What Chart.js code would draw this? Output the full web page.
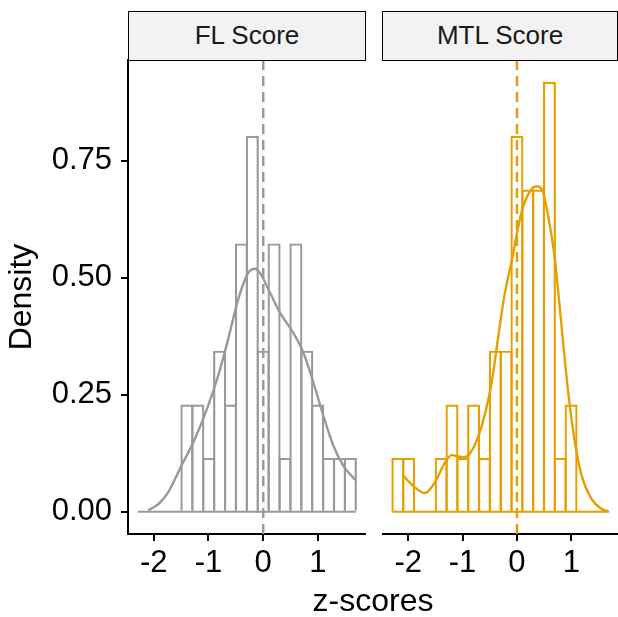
<!DOCTYPE html>
<html>
<head>
<meta charset="utf-8">
<script src="https://cdn.jsdelivr.net/npm/chart.js@4.4.1/dist/chart.umd.min.js"></script>
<style>
html,body{margin:0;padding:0;background:#fff;}
#wrap{position:relative;width:618px;height:617px;overflow:hidden;font-family:'Liberation Sans',Arial,Helvetica,sans-serif;}
canvas{position:absolute;top:0;}
.strip{position:absolute;top:11px;height:50px;box-sizing:border-box;border:1.5px solid #000;background:#F2F2F2;color:#1a1a1a;font-size:26px;line-height:47px;text-align:center;white-space:nowrap;}
#xtitle{position:absolute;left:128px;width:490px;top:584px;font-size:32px;line-height:32px;text-align:center;color:#000;}
</style>
</head>
<body>
<div id="wrap">
  <canvas id="c1" width="372" height="617" style="left:0px"></canvas>
  <canvas id="c2" width="236" height="617" style="left:382px"></canvas>
  <div class="strip" id="s1" style="left:128px;width:238px;"></div>
  <div class="strip" id="s2" style="left:382px;width:236px;"></div>
  <div id="xtitle"></div>
</div>
<script>
// ---- data ----
const panels = ['FL Score', 'MTL Score'];
const colors = ['#999999', '#E69F00'];
const binEdges = [-2.289, -2.090, -1.891, -1.692, -1.493, -1.294, -1.095, -0.896, -0.697, -0.498,
                  -0.299, -0.100, 0.099, 0.298, 0.497, 0.696, 0.895, 1.094, 1.293, 1.492, 1.691];
const flDensity  = [0, 0, 0, 0, 0.229, 0.229, 0.115, 0.344, 0.229, 0.573,
                    0.803, 0.344, 0.573, 0.115, 0.573, 0.344, 0.229, 0.115, 0.115, 0.115];
const mtlDensity = [0.115, 0.115, 0, 0, 0.115, 0.229, 0.115, 0.229, 0.115, 0.344,
                    0.344, 0.803, 0.688, 0.688, 0.918, 0.115, 0.229, 0, 0, 0];
const flCurveX  = [-2.10, -1.92, -1.74, -1.495, -1.251, -1.007, -0.824, -0.641, -0.458, -0.275,
                   -0.15, -0.06, 0.123, 0.306, 0.549, 0.733, 0.916, 1.099, 1.282, 1.465, 1.68];
const flCurveY  = [0.003, 0.016, 0.041, 0.098, 0.155, 0.226, 0.290, 0.368, 0.453, 0.510,
                   0.519, 0.510, 0.468, 0.425, 0.382, 0.340, 0.276, 0.205, 0.141, 0.098, 0.068];
const mtlCurveX = [-2.10, -1.875, -1.69, -1.507, -1.324, -1.20, -0.987, -0.833, -0.649, -0.465,
                   -0.343, -0.233, -0.08, 0.024, 0.116, 0.27, 0.373, 0.484, 0.575, 0.699,
                   0.80, 0.943, 1.066, 1.19, 1.373, 1.557, 1.68];
const mtlCurveY = [0.078, 0.052, 0.040, 0.063, 0.105, 0.121, 0.116, 0.130, 0.183, 0.276,
                   0.375, 0.460, 0.545, 0.609, 0.652, 0.689, 0.695, 0.681, 0.630, 0.538,
                   0.420, 0.254, 0.148, 0.077, 0.027, 0.006, 0.001];
const refLine = 0;
const xTicks = [-2, -1, 0, 1];
const xTickLabels = ['-2', '-1', '0', '1'];
const yTicks = [0, 0.25, 0.5, 0.75];
const yTickLabels = ['0.00', '0.25', '0.50', '0.75'];
const xTitle = 'z-scores';
const yTitle = 'Density';
const xMin = -2.47, xMax = 1.85, yMin = -0.0475, yMax = 0.9646;

// ---- drawing ----
const FONT = "'Liberation Sans', Arial, Helvetica, sans-serif";
document.getElementById('s1').textContent = panels[0];
document.getElementById('s2').textContent = panels[1];
document.getElementById('xtitle').textContent = xTitle;

const binCenters = binEdges.slice(0, -1).map((e, i) => (e + binEdges[i + 1]) / 2);

function makePanel(id, dens, cx, cy, color, showY, padding) {
  const ctx = document.getElementById(id);
  return new Chart(ctx, {
    type: 'bar',
    data: {
      datasets: [
        {
          type: 'line', order: 1,
          data: [{x: refLine, y: yMin}, {x: refLine, y: yMax}],
          borderColor: color, borderWidth: 2.5, borderDash: [10, 6],
          pointRadius: 0, fill: false
        },
        {
          type: 'line', order: 2,
          data: cx.map((x, i) => ({x: x, y: cy[i]})),
          borderColor: color, borderWidth: 2.4, pointRadius: 0, fill: false,
          tension: 0.4, cubicInterpolationMode: 'monotone'
        },
        {
          type: 'line', order: 3,
          data: [{x: binEdges[0], y: 0}, {x: binEdges[binEdges.length - 1], y: 0}],
          borderColor: color, borderWidth: 2.2, pointRadius: 0, fill: false
        },
        {
          type: 'bar', order: 4,
          data: binCenters.map((x, i) => ({x: x, y: dens[i]})),
          backgroundColor: 'rgba(0,0,0,0)', borderColor: color, borderWidth: 2.2,
          borderSkipped: 'start', barPercentage: 1.203, categoryPercentage: 1,
          inflateAmount: 0, grouped: false
        }
      ]
    },
    options: {
      responsive: false, animation: false, events: [],
      layout: {padding: padding},
      plugins: {legend: {display: false}, tooltip: {enabled: false}},
      scales: {
        x: {
          type: 'linear', min: xMin, max: xMax, offset: false,
          afterBuildTicks: s => { s.ticks = xTicks.map(v => ({value: v})); },
          afterFit: s => { s.height = 83; },
          ticks: {
            autoSkip: false, maxRotation: 0, padding: 4, color: '#000',
            font: {family: FONT, size: 31},
            callback: (v, i) => xTickLabels[i]
          },
          grid: {drawOnChartArea: false, drawTicks: true, tickLength: 7, lineWidth: 2, color: '#000', offset: false},
          border: {display: true, color: '#000', width: 2}
        },
        y: {
          type: 'linear', min: yMin, max: yMax, display: showY,
          afterBuildTicks: s => { s.ticks = yTicks.map(v => ({value: v})); },
          afterFit: s => { if (showY) s.width = 128; },
          ticks: {
            autoSkip: false, padding: 9, color: '#000',
            font: {family: FONT, size: 31},
            callback: (v, i) => yTickLabels[i]
          },
          grid: {drawOnChartArea: false, drawTicks: true, tickLength: 7, lineWidth: 2, color: '#000'},
          border: {display: true, color: '#000', width: 2},
          title: {display: showY, text: yTitle, color: '#000', font: {family: FONT, size: 32}, padding: {top: 3, bottom: 0}}
        }
      }
    }
  });
}

makePanel('c1', flDensity, flCurveX, flCurveY, colors[0], true, {top: 60, left: 0, right: 7.5, bottom: 0});
makePanel('c2', mtlDensity, mtlCurveX, mtlCurveY, colors[1], false, {top: 60, left: 0.6, right: 0.4, bottom: 0});
</script>
</body>
</html>
